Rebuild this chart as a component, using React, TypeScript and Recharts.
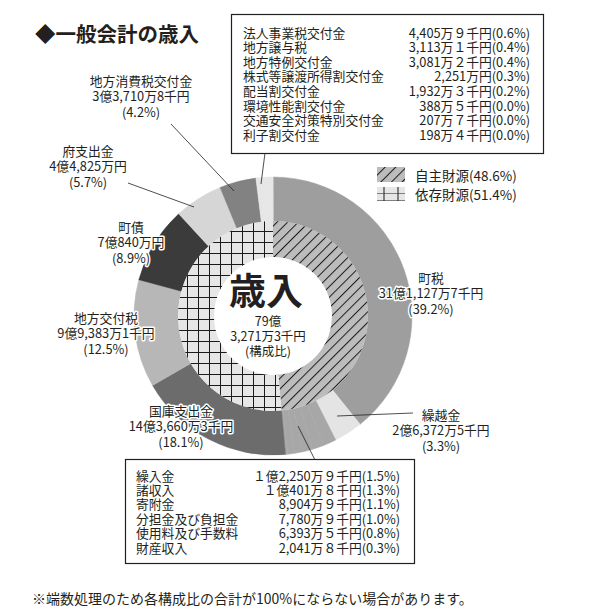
import React from "react";
import { PieChart, Pie, Cell } from "recharts";

// ---- data (amounts in 万円) ----
const mainNames = ["町税", "繰越金", "国庫支出金", "地方交付税", "町債", "府支出金", "地方消費税交付金"];
const mainValues = [311127.7, 26372.5, 143660.3, 99383.1, 70840, 44825, 33710.8];
const mainAmountText = ["31億1,127万7千円", "2億6,372万5千円", "14億3,660万3千円", "9億9,383万1千円", "7億840万円", "4億4,825万円", "3億3,710万8千円"];
const mainPctText = ["(39.2%)", "(3.3%)", "(18.1%)", "(12.5%)", "(8.9%)", "(5.7%)", "(4.2%)"];
const mainSource = ["自主", "自主", "依存", "依存", "依存", "依存", "依存"];

const bottomNames = ["繰入金", "諸収入", "寄附金", "分担金及び負担金", "使用料及び手数料", "財産収入"];
const bottomValues = [12250.9, 10401.8, 8904.9, 7780.9, 6393.5, 2041.8];
const bottomText = ["１億2,250万９千円(1.5%)", "１億401万８千円(1.3%)", "8,904万９千円(1.1%)", "7,780万９千円(1.0%)", "6,393万５千円(0.8%)", "2,041万８千円(0.3%)"];

const topNames = ["法人事業税交付金", "地方譲与税", "地方特例交付金", "株式等譲渡所得割交付金", "配当割交付金", "環境性能割交付金", "交通安全対策特別交付金", "利子割交付金"];
const topValues = [4405.9, 3113.1, 3081.2, 2251, 1932.3, 388.5, 207.7, 198.4];
const topText = ["4,405万９千円(0.6%)", "3,113万１千円(0.4%)", "3,081万２千円(0.4%)", "2,251万円(0.3%)", "1,932万３千円(0.2%)", "388万５千円(0.0%)", "207万７千円(0.0%)", "198万４千円(0.0%)"];

const sourceNames = ["自主財源", "依存財源"];
const sourcePctText = ["(48.6%)", "(51.4%)"];

const totalText = ["79億", "3,271万3千円", "(構成比)"];

// ---- styling ----
const mainColors: Record<string, string> = {
  町税: "#9e9e9e",
  繰越金: "#e4e4e4",
  国庫支出金: "#6c6c6c",
  地方交付税: "#b7b7b7",
  町債: "#3b3b3b",
  府支出金: "#d6d6d6",
  地方消費税交付金: "#828282",
};
const bottomColor = "#a7a7a7";
const topColor = "#e6e6e6";
const FONT = "'Noto Sans CJK JP', 'Noto Sans', sans-serif";
const INK = "#231f20";

// outer ring order (clockwise from top)
const outerData = [
  { name: mainNames[0], value: mainValues[0], color: mainColors[mainNames[0]] },
  { name: mainNames[1], value: mainValues[1], color: mainColors[mainNames[1]] },
  ...bottomNames.map((n, i) => ({ name: n, value: bottomValues[i], color: bottomColor })),
  ...mainNames.slice(2).map((n, i) => ({ name: n, value: mainValues[i + 2], color: mainColors[n] })),
  ...topNames.map((n, i) => ({ name: n, value: topValues[i], color: topColor })),
];

const sum = (a: number[]) => a.reduce((s, v) => s + v, 0);
const jishu = sum(mainValues.filter((_, i) => mainSource[i] === "自主")) + sum(bottomValues);
const izon = sum(mainValues.filter((_, i) => mainSource[i] === "依存")) + sum(topValues);
const innerData = [
  { name: sourceNames[0], value: jishu, fill: "url(#hatch)" },
  { name: sourceNames[1], value: izon, fill: "url(#cross)" },
];

const labelPos: Record<string, { x: number; y: number }> = {
  町税: { x: 431, y: 277 },
  繰越金: { x: 441, y: 414 },
  国庫支出金: { x: 181, y: 410 },
  地方交付税: { x: 106, y: 317 },
  町債: { x: 131, y: 226 },
  府支出金: { x: 88, y: 150 },
  地方消費税交付金: { x: 141, y: 80 },
};

const haloText = {
  fontFamily: FONT,
  fontSize: 12.8,
  fill: INK,
  stroke: "#fff",
  strokeWidth: 3,
  paintOrder: "stroke" as const,
  strokeLinejoin: "round" as const,
};

export default function App() {
  return (
    <div style={{ position: "absolute", left: 0, top: 0, width: 605, height: 615, background: "#fff" }}>
      <svg width={0} height={0} style={{ position: "absolute" }}>
        <defs>
          <pattern id="hatch" patternUnits="userSpaceOnUse" width="7.5" height="7.5" patternTransform="rotate(45)">
            <rect width="7.5" height="7.5" fill="#bcbcbc" />
            <line x1="0.5" y1="0" x2="0.5" y2="7.5" stroke="#1a1a1a" strokeWidth="1" />
          </pattern>
          <pattern id="cross" patternUnits="userSpaceOnUse" width="11" height="11">
            <rect width="11" height="11" fill="#e6e6e6" />
            <path d="M0 0.5 H11 M0.5 0 V11" stroke="#1a1a1a" strokeWidth="1" fill="none" />
          </pattern>
          <pattern id="crossLegend" patternUnits="userSpaceOnUse" width="14" height="7" x="377" y="187">
            <rect width="14" height="7" fill="#e6e6e6" />
            <path d="M0 7 H14 M7 0 V7" stroke="#1a1a1a" strokeWidth="1" fill="none" />
          </pattern>
        </defs>
      </svg>
      <div style={{ position: "absolute", left: 0, top: 0 }}>
        <PieChart width={605} height={615}>
          <Pie
            data={outerData}
            dataKey="value"
            nameKey="name"
            cx={268}
            cy={311}
            innerRadius={95}
            outerRadius={139}
            startAngle={90}
            endAngle={-270}
            paddingAngle={0}
            stroke="none"
            isAnimationActive={false}
          >
            {outerData.map((d, i) => (
              <Cell key={i} fill={d.color} stroke={d.color} strokeWidth={0.5} />
            ))}
          </Pie>
          <Pie
            data={innerData}
            dataKey="value"
            nameKey="name"
            cx={268}
            cy={311}
            innerRadius={59}
            outerRadius={95}
            startAngle={90}
            endAngle={-270}
            paddingAngle={0}
            stroke="none"
            isAnimationActive={false}
          >
            {innerData.map((d, i) => (
              <Cell key={i} fill={d.fill} />
            ))}
          </Pie>
        </PieChart>
      </div>
      <svg width={605} height={615} style={{ position: "absolute", left: 0, top: 0, pointerEvents: "none" }}>
        {/* title */}
        <text x={35} y={33} dominantBaseline="central" fontFamily={FONT} fontSize={20.5} fontWeight={700} fill={INK}>
          ◆一般会計の歳入
        </text>

        {/* top box */}
        <rect x={231.5} y={14.5} width={312} height={139} fill="#fff" stroke={INK} strokeWidth={1.2} />
        {topNames.map((n, i) => (
          <g key={n}>
            <text x={243} y={32 + i * 14.6} dominantBaseline="central" fontFamily={FONT} fontSize={12.8} fill={INK}>
              {n}
            </text>
            <text x={530} y={32 + i * 14.6} dominantBaseline="central" textAnchor="end" fontFamily={FONT} fontSize={12.8} fill={INK}>
              {topText[i]}
            </text>
          </g>
        ))}
        <line x1={265} y1={153} x2={261} y2={184} stroke={INK} strokeWidth={0.8} />

        {/* legend */}
        <rect x={377} y={167} width={28} height={15} fill="url(#hatch)" />
        <text x={415} y={175} dominantBaseline="central" fontFamily={FONT} fontSize={13.5} fill={INK}>
          {sourceNames[0] + sourcePctText[0]}
        </text>
        <rect x={377} y={187} width={28} height={14} fill="url(#crossLegend)" />
        <text x={415} y={194} dominantBaseline="central" fontFamily={FONT} fontSize={13.5} fill={INK}>
          {sourceNames[1] + sourcePctText[1]}
        </text>

        {/* leader lines */}
        <line x1={171} y1={124} x2={234} y2={191} stroke={INK} strokeWidth={0.8} />
        <line x1={128} y1={183} x2={194} y2={207} stroke={INK} strokeWidth={0.8} />
        <line x1={337} y1={416} x2={413} y2={413} stroke={INK} strokeWidth={0.8} />
        <line x1={298} y1={426} x2={315} y2={460} stroke={INK} strokeWidth={0.8} />

        {/* main labels */}
        {mainNames.map((n, i) => {
          const p = labelPos[n];
          return (
            <g key={n}>
              <text x={p.x} y={p.y} dominantBaseline="central" textAnchor="middle" {...haloText}>
                {n}
              </text>
              <text x={p.x} y={p.y + 15.5} dominantBaseline="central" textAnchor="middle" {...haloText}>
                {mainAmountText[i]}
              </text>
              <text x={p.x} y={p.y + 31} dominantBaseline="central" textAnchor="middle" {...haloText}>
                {mainPctText[i]}
              </text>
            </g>
          );
        })}

        {/* center */}
        <text x={266} y={289} dominantBaseline="central" textAnchor="middle" fontFamily={FONT} fontSize={37} fontWeight={700} fill={INK}>
          歳入
        </text>
        {totalText.map((t, i) => (
          <text key={t} x={268} y={320 + i * 15} dominantBaseline="central" textAnchor="middle" fontFamily={FONT} fontSize={12.5} fill={INK}>
            {t}
          </text>
        ))}

        {/* bottom box */}
        <rect x={125.5} y={459.5} width={289} height={104} fill="#fff" stroke={INK} strokeWidth={1.2} />
        {bottomNames.map((n, i) => (
          <g key={n}>
            <text x={136} y={475 + i * 14.4} dominantBaseline="central" fontFamily={FONT} fontSize={12.8} fill={INK}>
              {n}
            </text>
            <text x={400} y={475 + i * 14.4} dominantBaseline="central" textAnchor="end" fontFamily={FONT} fontSize={12.8} fill={INK}>
              {bottomText[i]}
            </text>
          </g>
        ))}

        {/* footer */}
        <text x={32} y={598} dominantBaseline="central" fontFamily={FONT} fontSize={14} fill={INK}>
          ※端数処理のため各構成比の合計が100%にならない場合があります。
        </text>
      </svg>
    </div>
  );
}
